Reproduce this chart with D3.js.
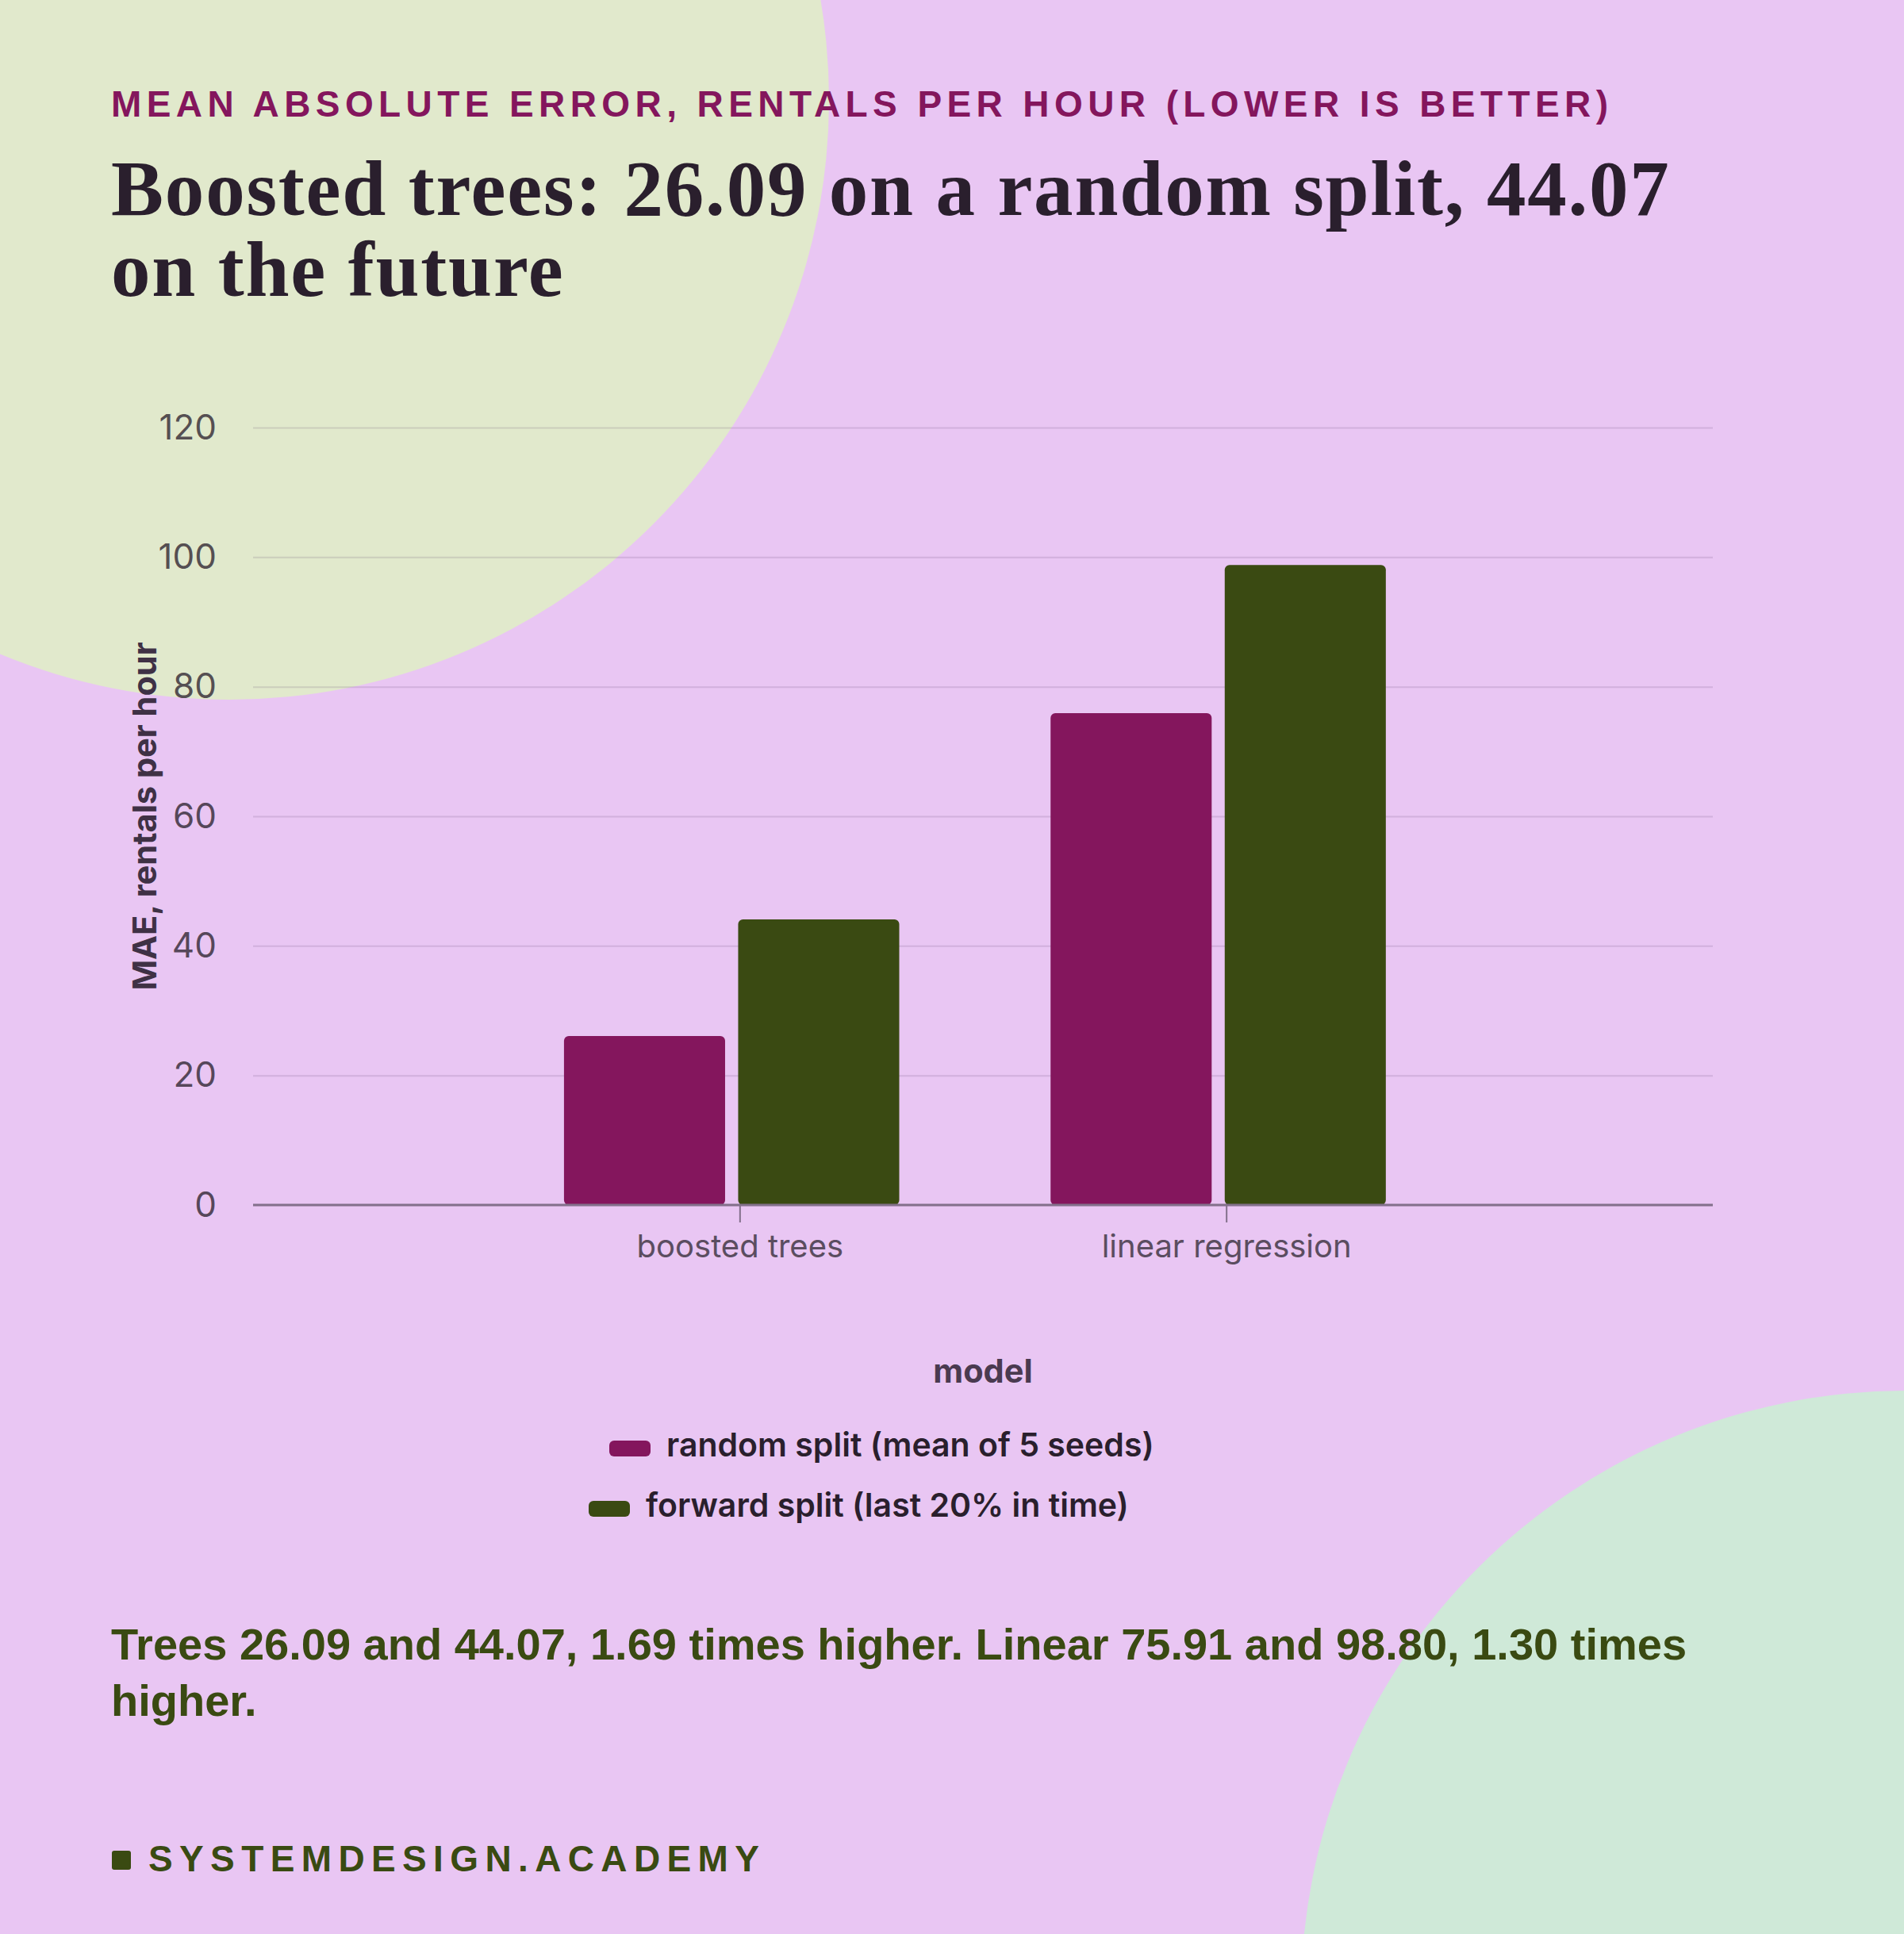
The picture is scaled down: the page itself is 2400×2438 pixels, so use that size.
<!DOCTYPE html>
<html>
<head>
<meta charset="utf-8">
<script src="https://cdn.jsdelivr.net/npm/d3@7"></script>
<style>
  body { margin: 0; background: #e9c6f3; }
  svg { display: block; }
</style>
</head>
<body>
<div id="chart"></div>
<script>
// data
const models = ["boosted trees", "linear regression"];
const splits = ["random split (mean of 5 seeds)", "forward split (last 20% in time)"];
const randomSplit = [26.09, 75.91];
const forwardSplit = [44.07, 98.80];
const yTicks = [0, 20, 40, 60, 80, 100, 120];

const colors = ["#84165d", "#3a4a12"];

const W = 2400, H = 2438;
const margin = { left: 319, right: 241, top: 539, bottom: 919 };
const innerWidth = W - margin.left - margin.right;
const innerHeight = H - margin.top - margin.bottom;

const sans = "'Liberation Sans', Arial, sans-serif";
const ui = "Inter, sans-serif";

const svg = d3.select("#chart").append("svg")
  .attr("width", W)
  .attr("height", H);

// background
svg.append("rect").attr("width", W).attr("height", H).attr("fill", "#e9c6f3");
svg.append("circle").attr("cx", 289).attr("cy", 126).attr("r", 756).attr("fill", "#e1e9cc");
svg.append("circle").attr("cx", 2402).attr("cy", 2515).attr("r", 762).attr("fill", "#cfe9d8");

// header
svg.append("text")
  .attr("x", 140).attr("y", 147)
  .attr("font-family", sans)
  .attr("font-weight", 700)
  .attr("font-size", 46)
  .attr("fill", "#84165d")
  .attr("textLength", 1887)
  .attr("lengthAdjust", "spacing")
  .text("MEAN ABSOLUTE ERROR, RENTALS PER HOUR (LOWER IS BETTER)");

const titleLines = ["Boosted trees: 26.09 on a random split, 44.07", "on the future"];
svg.append("g").selectAll("text")
  .data(titleLines)
  .join("text")
  .attr("x", 140)
  .attr("y", (d, i) => 271 + i * 102)
  .attr("font-family", "'Liberation Serif', serif")
  .attr("font-weight", 700)
  .attr("font-size", 99)
  .attr("letter-spacing", 1.8)
  .attr("fill", "#2a1f2d")
  .text(d => d);

// chart
const mainGroup = svg.append("g")
  .attr("transform", `translate(${margin.left},${margin.top})`);

const xScale = d3.scalePoint().domain(models).range([0, innerWidth]).padding(1);
const step = xScale.step();
const xInner = d3.scaleBand().domain(d3.range(splits.length))
  .range([-0.361 * step, 0.328 * step]).paddingInner(0.075);
const yScale = d3.scaleLinear().domain([0, 120]).range([innerHeight, 0]);

const yAxis = d3.axisLeft(yScale).tickValues(yTicks).tickSize(-innerWidth).tickPadding(46);
const yAxisG = mainGroup.append("g").attr("class", "y-axis").call(yAxis);
yAxisG.select(".domain").remove();
yAxisG.selectAll(".tick line")
  .attr("stroke", "#4a2a5a").attr("stroke-opacity", 0.14).attr("stroke-width", 2);
yAxisG.selectAll(".tick text")
  .attr("font-family", ui)
  .attr("font-size", 44)
  .attr("fill", "#2e2430").attr("fill-opacity", 0.78);

const barData = [];
models.forEach((m, i) => {
  barData.push({ model: m, s: 0, value: randomSplit[i] });
  barData.push({ model: m, s: 1, value: forwardSplit[i] });
});

mainGroup.append("g").selectAll("rect")
  .data(barData)
  .join("rect")
  .attr("x", d => xScale(d.model) + xInner(d.s))
  .attr("width", xInner.bandwidth())
  .attr("y", d => yScale(d.value))
  .attr("height", d => yScale(0) - yScale(d.value))
  .attr("rx", 6)
  .attr("fill", d => colors[d.s]);

const xAxis = d3.axisBottom(xScale).tickSize(22).tickPadding(16);
const xAxisG = mainGroup.append("g")
  .attr("class", "x-axis")
  .attr("transform", `translate(0,${innerHeight})`)
  .call(xAxis);
xAxisG.select(".domain").attr("stroke", "#83708b").attr("stroke-width", 3)
  .attr("d", `M0,0H${innerWidth}`);
xAxisG.selectAll(".tick line").attr("stroke", "#83708b").attr("stroke-width", 2);
xAxisG.selectAll(".tick text")
  .attr("font-family", ui)
  .attr("font-size", 40)
  .attr("fill", "#5b4d60");

// axis titles
mainGroup.append("text")
  .attr("transform", `translate(${-122},${innerHeight / 2}) rotate(-90)`)
  .attr("text-anchor", "middle")
  .attr("font-family", ui)
  .attr("font-weight", 700)
  .attr("font-size", 41.5)
  .attr("fill", "#3f3145")
  .text("MAE, rentals per hour");

mainGroup.append("text")
  .attr("x", innerWidth / 2)
  .attr("y", innerHeight + 224)
  .attr("text-anchor", "middle")
  .attr("font-family", ui)
  .attr("font-weight", 700)
  .attr("font-size", 41.5)
  .attr("fill", "#4a3a50")
  .text("model");

// legend
const legendPos = [{ x: 768, y: 1816 }, { x: 742, y: 1892 }];
const legend = svg.append("g").selectAll("g")
  .data(splits)
  .join("g")
  .attr("transform", (d, i) => `translate(${legendPos[i].x},${legendPos[i].y})`);
legend.append("rect")
  .attr("width", 52).attr("height", 20).attr("rx", 6)
  .attr("fill", (d, i) => colors[i]);
legend.append("text")
  .attr("x", 72).attr("y", 20)
  .attr("font-family", ui)
  .attr("font-weight", 600)
  .attr("font-size", 41)
  .attr("fill", "#2a1f2d")
  .text(d => d);

// caption
const captionLines = ["Trees 26.09 and 44.07, 1.69 times higher. Linear 75.91 and 98.80, 1.30 times", "higher."];
svg.append("g").selectAll("text")
  .data(captionLines)
  .join("text")
  .attr("x", 140)
  .attr("y", (d, i) => 2092 + i * 71)
  .attr("font-family", sans)
  .attr("font-weight", 700)
  .attr("font-size", 56)
  .attr("fill", "#3a4a12")
  .text(d => d);

// footer
svg.append("rect")
  .attr("x", 141).attr("y", 2333).attr("width", 24).attr("height", 24).attr("rx", 3)
  .attr("fill", "#3a4a12");
svg.append("text")
  .attr("x", 187).attr("y", 2359)
  .attr("font-family", sans)
  .attr("font-weight", 700)
  .attr("font-size", 46)
  .attr("fill", "#3a4a12")
  .attr("textLength", 770)
  .attr("lengthAdjust", "spacing")
  .text("SYSTEMDESIGN.ACADEMY");
</script>
</body>
</html>
